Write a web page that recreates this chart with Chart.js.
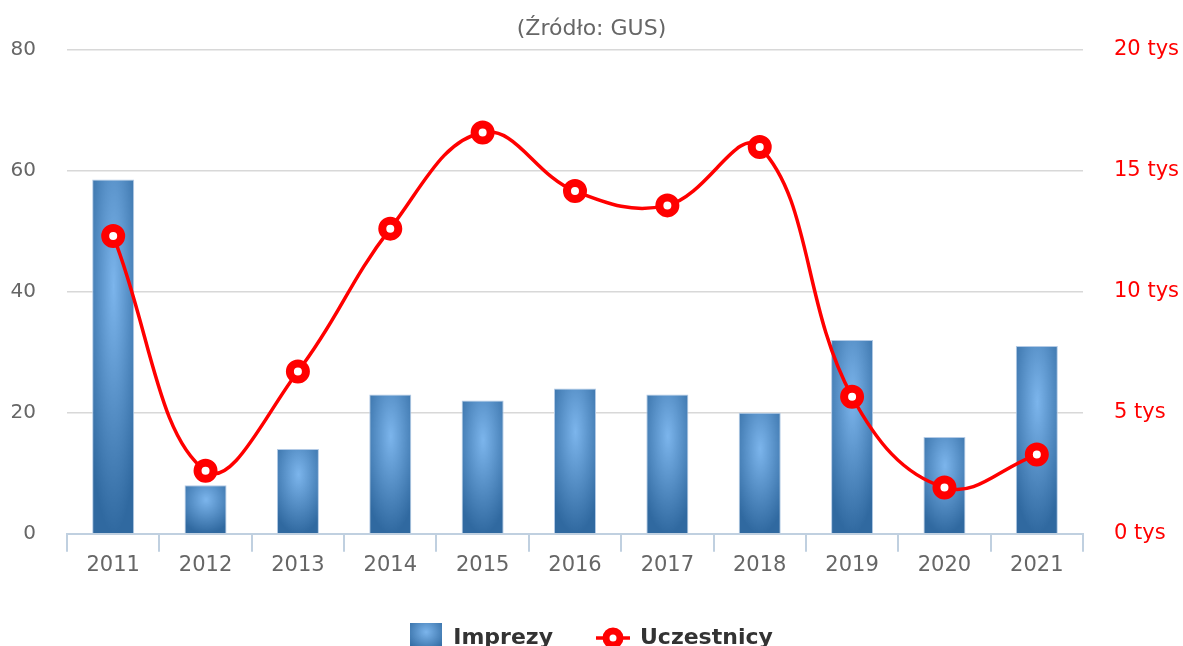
<!DOCTYPE html>
<html><head><meta charset="utf-8">
<script src="https://cdn.jsdelivr.net/npm/chart.js@4"></script>
<style>html,body{margin:0;padding:0;overflow:hidden;background:#fff}#wrap{width:1183px;height:659px}</style>
</head><body><div id="wrap"><canvas id="c" width="1183" height="659" style="width:1183px;height:659px"></canvas></div>
<script>
const years = ['2011','2012','2013','2014','2015','2016','2017','2018','2019','2020','2021'];
const imprezy = [58.5, 8, 14, 23, 22, 24, 23, 20, 32, 16, 31];
const uczestnicy = [12300, 2600, 6700, 12600, 16570, 14150, 13560, 15970, 5660, 1910, 3270];
const leftTicks = [0, 20, 40, 60, 80];
const rightTicks = [0, 5000, 10000, 15000, 20000];
const titleText = '(Źródło: GUS)';
const seriesNames = ['Imprezy', 'Uczestnicy'];

Chart.defaults.font.family = "'DejaVu Sans', sans-serif";

function paintGradient(g, w, h) {
  g.save();
  g.scale(w, h);
  const gr = g.createRadialGradient(0.5, 0.3, 0, 0.5, 0.3, 0.7);
  gr.addColorStop(0, '#7cb5ec');
  gr.addColorStop(1, '#3069a0');
  g.fillStyle = gr;
  g.fillRect(0, 0, 1, 1);
  g.restore();
}
function barPattern(mainCtx, left, top, w, h) {
  const c = document.createElement('canvas');
  c.width = Math.max(1, Math.ceil(w));
  c.height = Math.max(1, Math.ceil(h));
  paintGradient(c.getContext('2d'), c.width, c.height);
  const p = mainCtx.createPattern(c, 'no-repeat');
  p.setTransform(new DOMMatrix([1, 0, 0, 1, left, top]));
  return p;
}
// legend icons
const barIcon = document.createElement('canvas');
barIcon.width = 32; barIcon.height = 30;
paintGradient(barIcon.getContext('2d'), 32, 30);
const lineIcon = document.createElement('canvas');
lineIcon.width = 34; lineIcon.height = 28;
(function(){
  const g = lineIcon.getContext('2d');
  g.strokeStyle = '#ff0000'; g.lineWidth = 3.5;
  g.beginPath(); g.moveTo(0, 14); g.lineTo(34, 14); g.stroke();
  g.beginPath(); g.arc(17, 14, 7, 0, Math.PI * 2);
  g.fillStyle = '#ffffff'; g.fill();
  g.lineWidth = 7; g.stroke();
})();

const barFillPlugin = {
  id: 'barFill',
  beforeDatasetsDraw(chart) {
    const meta = chart.getDatasetMeta(0);
    meta.data.forEach(el => {
      const {x, y, base, width} = el.getProps(['x', 'y', 'base', 'width'], true);
      const top = Math.min(y, base), h = Math.abs(base - y);
      el.options.backgroundColor = barPattern(chart.ctx, x - width / 2, top, width, h);
    });
  }
};

new Chart(document.getElementById('c'), {
  type: 'bar',
  data: {
    labels: years,
    datasets: [
      {
        type: 'bar', label: seriesNames[0], data: imprezy, yAxisID: 'y', order: 2,
        backgroundColor: () => '#4a85c0',
        borderColor: '#b4cbe6', borderWidth: {top: 1, left: 1, right: 1, bottom: 0},
        barPercentage: 0.455, categoryPercentage: 1
      },
      {
        type: 'line', label: seriesNames[1], data: uczestnicy, yAxisID: 'y1', order: 1,
        borderColor: '#ff0000', borderWidth: 3.5, tension: 0.4,
        pointRadius: 8, pointBorderWidth: 8, pointBackgroundColor: '#ffffff', pointBorderColor: '#ff0000',
        pointHoverRadius: 8
      }
    ]
  },
  options: {
    responsive: false, animation: false,
    layout: {padding: 0},
    plugins: {
      title: {display: true, text: titleText, color: '#666666', font: {size: 22, weight: 'normal'}, padding: {top: 16, bottom: 7}},
      legend: {
        position: 'bottom',
        labels: {
          usePointStyle: true, pointStyleWidth: 32, padding: 44, color: '#333333',
          font: {size: 22, weight: 'bold'},
          generateLabels: () => [
            {text: seriesNames[0], pointStyle: barIcon, datasetIndex: 0, fontColor: '#333333', hidden: false, lineWidth: 0, fillStyle: 'rgba(0,0,0,0)', strokeStyle: 'rgba(0,0,0,0)'},
            {text: seriesNames[1], pointStyle: lineIcon, datasetIndex: 1, fontColor: '#333333', hidden: false, lineWidth: 0, fillStyle: 'rgba(0,0,0,0)', strokeStyle: 'rgba(0,0,0,0)'}
          ]
        }
      },
      tooltip: {enabled: false}
    },
    scales: {
      x: {
        grid: {offset: true, drawOnChartArea: false, tickLength: 18, color: '#c0d0e0', lineWidth: 2},
        border: {color: '#c0d0e0', width: 2},
        ticks: {color: '#666666', font: {size: 21}, padding: 1},
        afterFit: s => { s.height += 4; }
      },
      y: {
        position: 'left', min: 0, max: 80,
        afterBuildTicks: s => { s.ticks = leftTicks.map(v => ({value: v})); },
        ticks: {color: '#666666', font: {size: 20}, padding: 31},
        grid: {drawTicks: false, color: c => (c.tick && c.tick.value === 0) ? 'rgba(0,0,0,0)' : '#d8d8d8', lineWidth: 1.5},
        border: {display: false},
        afterFit: s => { s.width = 67; }
      },
      y1: {
        position: 'right', min: 0, max: 20000,
        afterBuildTicks: s => { s.ticks = rightTicks.map(v => ({value: v})); },
        ticks: {color: '#ff0000', font: {size: 21}, padding: 31, callback: v => (v / 1000) + ' tys'},
        grid: {display: false, drawTicks: false},
        border: {display: false},
        afterFit: s => { s.width = 100; }
      }
    }
  },
  plugins: [barFillPlugin]
});
</script>
</body></html>
